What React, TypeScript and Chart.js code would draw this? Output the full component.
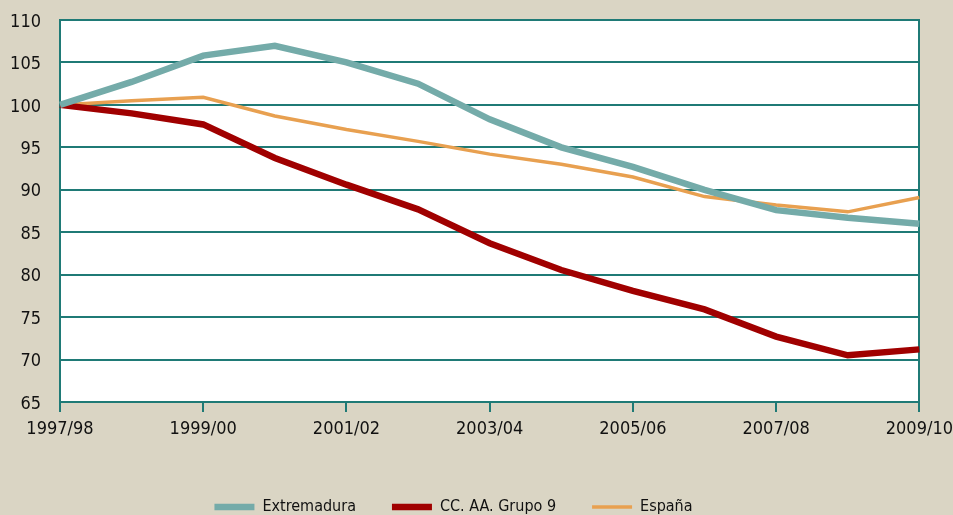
import React, { useEffect, useRef } from "react";
import { Chart, registerables } from "chart.js";

Chart.register(...registerables);

const categories = [
  "1997/98", "1998/99", "1999/00", "2000/01", "2001/02", "2002/03", "2003/04",
  "2004/05", "2005/06", "2006/07", "2007/08", "2008/09", "2009/10",
];
const extremadura = [100, 102.7, 105.8, 106.95, 105.0, 102.5, 98.3, 95.0, 92.7, 90.0, 87.6, 86.7, 86.0];
const grupo9 = [100, 99.0, 97.7, 93.75, 90.6, 87.7, 83.7, 80.55, 78.1, 75.9, 72.7, 70.5, 71.2];
const espana = [100, 100.5, 100.9, 98.7, 97.1, 95.7, 94.2, 93.0, 91.5, 89.2, 88.2, 87.4, 89.1];
const seriesNames = ["Extremadura", "CC. AA. Grupo 9", "España"];
const yTicks = [65, 70, 75, 80, 85, 90, 95, 100, 105, 110];

const FONT = "'DejaVu Sans Condensed', Tahoma, 'DejaVu Sans', sans-serif";
const GRID = "#1f7a76";
const BG = "#dad5c4";
const TEXT = "#111111";

export default function App() {
  const ref = useRef<HTMLCanvasElement | null>(null);
  useEffect(() => {
    document.body.style.margin = "0";
    document.body.style.background = BG;
    const canvas = ref.current!;
    const bgPlugin = {
      id: "bg",
      afterLayout(chart: any) {
        const l = chart.legend;
        if (l) {
          l.left -= 23;
          l.right -= 23;
        }
      },
      beforeDraw(chart: any) {
        const { ctx, chartArea } = chart;
        ctx.save();
        ctx.fillStyle = BG;
        ctx.fillRect(0, 0, chart.width, chart.height);
        ctx.fillStyle = "#ffffff";
        ctx.fillRect(chartArea.left, chartArea.top, chartArea.right - chartArea.left, chartArea.bottom - chartArea.top);
        ctx.restore();
      },
    };
    const chart = new Chart(canvas, {
      type: "line",
      data: {
        labels: categories,
        datasets: [
          { label: seriesNames[0], data: extremadura, borderColor: "#74aba9", backgroundColor: "#74aba9", borderWidth: 6.5, pointRadius: 0, tension: 0 },
          { label: seriesNames[1], data: grupo9, borderColor: "#a00000", backgroundColor: "#a00000", borderWidth: 6.5, pointRadius: 0, tension: 0 },
          { label: seriesNames[2], data: espana, borderColor: "#e8a050", backgroundColor: "#e8a050", borderWidth: 3.5, pointRadius: 0, tension: 0 },
        ],
      },
      options: {
        animation: false,
        responsive: false,
        layout: { padding: { top: 20, right: 0, left: 0, bottom: -10 } },
        plugins: {
          tooltip: { enabled: false },
          legend: {
            position: "bottom",
            labels: {
              usePointStyle: true,
              pointStyle: "line",
              pointStyleWidth: 40,
              color: TEXT,
              font: { family: FONT, size: 16 },
              padding: 36,
            },
          },
        },
        scales: {
          x: {
            offset: false,
            grid: {
              drawOnChartArea: false,
              drawTicks: true,
              tickLength: 10,
              color: GRID,
              lineWidth: 2,
            },
            border: { display: true, color: GRID, width: 2 },
            ticks: {
              autoSkip: false,
              maxRotation: 0,
              color: TEXT,
              font: { family: FONT, size: 18, lineHeight: 1.94 },
              padding: 0,
              callback: (_v: any, i: number) => (i % 2 === 0 ? categories[i] : null),
            },
            afterFit: (s: any) => { s.height = 61; },
          },
          y: {
            min: 65,
            max: 110,
            afterBuildTicks: (s: any) => { s.ticks = yTicks.map((v) => ({ value: v })); },
            grid: { color: GRID, lineWidth: 2, drawTicks: true, tickLength: 19, tickColor: "rgba(0,0,0,0)" },
            border: { display: true, color: GRID, width: 2 },
            ticks: {
              color: TEXT,
              font: { family: FONT, size: 18 },
              padding: 0,
              labelOffset: 2,
            },
            afterFit: (s: any) => { s.width = 60; },
          },
          y2: {
            position: "right",
            min: 65,
            max: 110,
            grid: { drawOnChartArea: false, drawTicks: false },
            border: { display: true, color: GRID, width: 2 },
            ticks: { display: false },
            afterFit: (s: any) => { s.width = 0; },
          },
        },
      },
      plugins: [bgPlugin],
    });
    return () => chart.destroy();
  }, []);
  return <canvas ref={ref} width={953} height={515} style={{ display: "block" }} />;
}
